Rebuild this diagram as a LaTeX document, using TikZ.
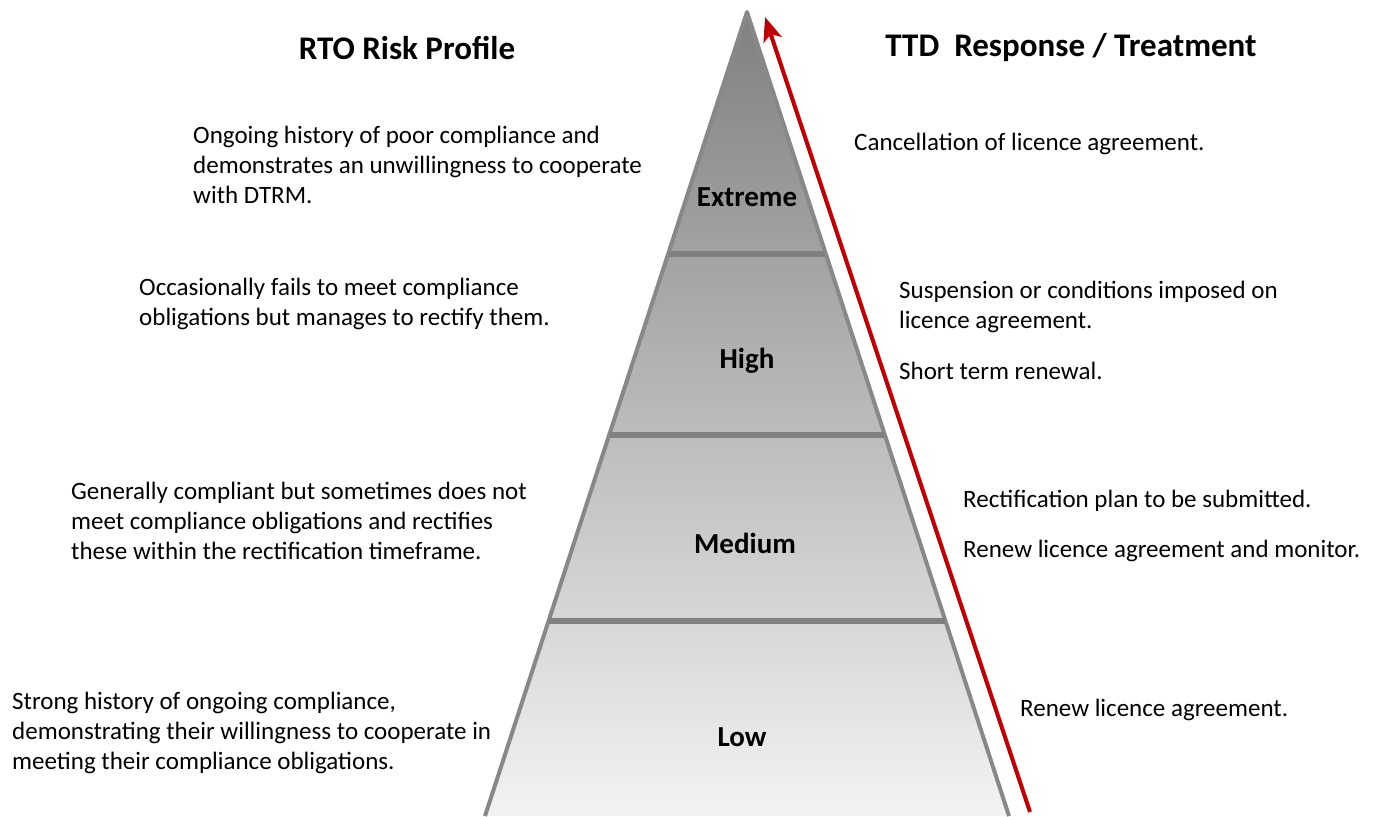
\documentclass[tikz,border=0pt]{standalone}
\usepackage{fontspec}
\setmainfont{Carlito}
\usetikzlibrary{arrows.meta}

\definecolor{pyrtop}{RGB}{128,128,128}
\definecolor{pyrbot}{RGB}{243,243,243}
\definecolor{pyredge}{RGB}{136,136,136}
\definecolor{arrowred}{RGB}{192,0,0}

\tikzset{
	desc/.style={anchor=west, align=left, inner sep=0pt, font=\fontsize{25}{30}\selectfont},
	level/.style={inner sep=0pt, font=\fontsize{29}{32}\selectfont\bfseries},
	head/.style={inner sep=0pt, font=\fontsize{33}{36}\selectfont\bfseries}
}

\begin{document}
\begin{tikzpicture}[x=1pt, y=-1pt]

	\useasboundingbox (0,0) rectangle (1375,816);

	\coordinate (apex) at (747,12);
	\coordinate (bl) at (485,816);
	\coordinate (br) at (1009,816);

	\shade[top color=pyrtop, bottom color=pyrbot] (apex) -- (br) -- (bl) -- cycle;
	\draw[pyredge, line width=4pt, line join=round] (bl) -- (apex) -- (br);

	\foreach \y in {254,435,621} {
		\draw[pyrtop, line width=6pt] ({747-0.326*(\y-12)+1},\y) -- ({747+0.326*(\y-12)-1},\y);
	}

	\coordinate (tail) at (1030,812);
	\coordinate (tip) at (765,17);
	\draw[arrowred, line width=4pt, -{Stealth[length=24pt, width=19pt, inset=6pt]}] (tail) -- (tip);

	\node[head] (lhead) at (407,48) {RTO Risk Profile};
	\node[head] (rhead) at (1071,48) {TTD\ \ Response / Treatment};

	\node[level] (extreme) at (747,197) {Extreme};
	\node[level] (high) at (747,361) {High};
	\node[level] (medium) at (745,543) {Medium};
	\node[level] (low) at (742,737) {Low};

	\node[desc] (lextreme) at (193,165) {Ongoing history of poor compliance and\\demonstrates an unwillingness to cooperate\\with DTRM.};
	\node[desc] (lhigh) at (139,304) {Occasionally fails to meet compliance\\obligations but manages to rectify them.};
	\node[desc] (lmedium) at (71,521) {Generally compliant but sometimes does not\\meet compliance obligations and rectifies\\these within the rectification timeframe.};
	\node[desc] (llow) at (12,733) {Strong history of ongoing compliance,\\demonstrating their willingness to cooperate in\\meeting their compliance obligations.};

	\node[desc] (rextreme) at (854,144) {Cancellation of licence agreement.};
	\node[desc] (rhigh) at (899,307) {Suspension or conditions imposed on\\licence agreement.};
	\node[desc] (rhighb) at (899,371) {Short term renewal.};
	\node[desc] (rmedium) at (963,501) {Rectification plan to be submitted.};
	\node[desc] (rmediumb) at (963,551) {Renew licence agreement and monitor.};
	\node[desc] (rlow) at (1020,710) {Renew licence agreement.};

\end{tikzpicture}
\end{document}
